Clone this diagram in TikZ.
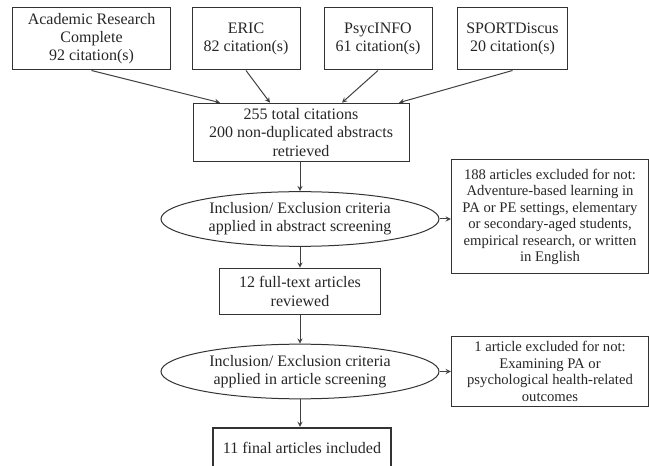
\documentclass[tikz,border=0pt]{standalone}
\usepackage{fontspec}
\setmainfont{Liberation Serif}
\usetikzlibrary{shapes.geometric,calc}

\begin{document}
\begin{tikzpicture}[
    x=0.75pt, y=-0.75pt,
    box/.style={rectangle, draw=black!80, line width=0.75pt, align=center, text=black!85, font=\fontsize{12}{13.6}\selectfont, inner sep=2pt},
    dbbox/.style={box, minimum width=#1, minimum height=46.5pt},
    sidebox/.style={box, font=\fontsize{11}{12.4}\selectfont, minimum width=148pt},
    crit/.style={ellipse, draw=black!80, line width=0.75pt, align=center, text=black!85, font=\fontsize{12}{13.4}\selectfont, minimum width=208.5pt, minimum height=41pt, inner sep=0pt},
    arrow/.style={->, >=stealth, draw=black!75, line width=0.75pt}
]
\useasboundingbox (0,0) rectangle (649,466);

% Databases
\node[dbbox=119pt] (arc) at (91.5,39) {Academic Research\\Complete\\92 citation(s)};
\node[dbbox=81pt] (eric) at (246,39) {ERIC\\82 citation(s)};
\node[dbbox=81pt] (psyc) at (378,39) {PsycINFO\\61 citation(s)};
\node[dbbox=82pt] (sport) at (512.5,39) {SPORTDiscus\\20 citation(s)};

% Screening flow
\node[box, minimum width=162pt, minimum height=44pt] (total) at (301,132.5) {255 total citations\\200 non-duplicated abstracts\\retrieved};
\node[crit] (crit1) at (300,219) {Inclusion/ Exclusion criteria\\applied in abstract screening};
\node[sidebox, minimum height=85.5pt] (excl1) at (550,217) {188 articles excluded for not:\\Adventure-based learning in\\PA or PE settings, elementary\\or secondary-aged students,\\empirical research, or written\\in English};
\node[box, minimum width=121pt, minimum height=35pt] (full) at (300,291.5) {12 full-text articles\\reviewed};
\node[crit] (crit2) at (300,371.5) {Inclusion/ Exclusion criteria\\applied in article screening};
\node[sidebox, minimum height=53pt] (excl2) at (550,371.5) {1 article excluded for not:\\Examining PA or\\psychological health-related\\outcomes};
\node[box, line width=1.6pt, minimum width=133pt, minimum height=30pt] (final) at (302,448) {11 final articles included};

% Arrows
\draw[arrow] (arc.south) -- ($(total.north)+(-81,0)$);
\draw[arrow] (eric.south) -- ($(total.north)+(-31,0)$);
\draw[arrow] (psyc.south) -- ($(total.north)+(41,0)$);
\draw[arrow] (sport.south) -- ($(total.north)+(98,0)$);
\draw[arrow] (crit1 |- total.south) -- (crit1);
\draw[arrow] (crit1.east) -- (crit1.east -| excl1.west);
\draw[arrow] (crit1) -- (crit1 |- full.north);
\draw[arrow] (crit1 |- full.south) -- (crit2);
\draw[arrow] (crit2.east) -- (crit2.east -| excl2.west);
\draw[arrow] (crit2) -- (crit2 |- final.north);

\end{tikzpicture}
\end{document}
